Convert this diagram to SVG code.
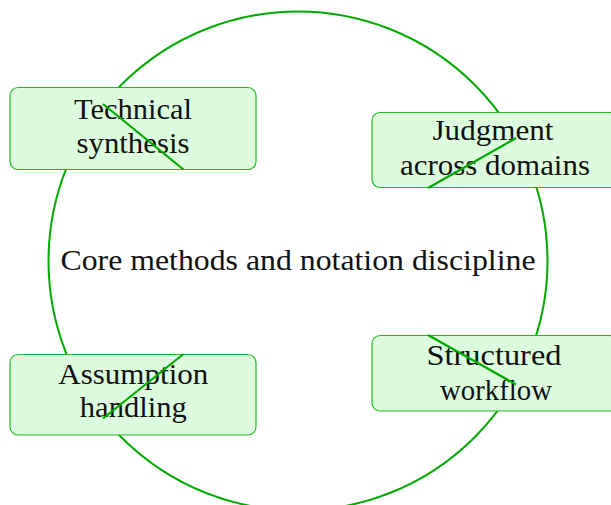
<svg xmlns="http://www.w3.org/2000/svg" width="611" height="505" viewBox="0 0 611 505">
<style>
.box{fill:#ddfcdd;stroke:#22bb22;stroke-width:1.2}
.t{font-family:"Liberation Serif","Times New Roman",serif;font-size:29px;fill:#111;text-anchor:middle}
.c{fill:none;stroke:#00aa00;stroke-width:2}
.ln{stroke:#00aa00;stroke-width:2.2;fill:none}
</style>
<rect width="611" height="505" fill="#fff"/>
<g id="connectors">
<circle class="c" cx="298" cy="261" r="249.5"/>
</g>
<text class="t" x="298" y="270" textLength="475" lengthAdjust="spacingAndGlyphs">Core methods and notation discipline</text>
<g id="technical">
<rect class="box" x="10" y="87.5" width="246" height="82" rx="8"/>
<text class="t" x="133" y="118.5" textLength="118" lengthAdjust="spacingAndGlyphs">Technical</text>
<text class="t" x="133" y="152.5" textLength="113" lengthAdjust="spacingAndGlyphs">synthesis</text>
<line class="ln" x1="103" y1="104" x2="183.5" y2="169.5"/>
</g>
<g id="judgment">
<rect class="box" x="372" y="112.5" width="246" height="75" rx="8"/>
<text class="t" x="493" y="140" textLength="121" lengthAdjust="spacingAndGlyphs">Judgment</text>
<text class="t" x="495" y="175" textLength="190" lengthAdjust="spacingAndGlyphs">across domains</text>
<line class="ln" x1="428" y1="188" x2="516" y2="138"/>
</g>
<g id="assumption">
<rect class="box" x="10" y="354.5" width="246" height="80.5" rx="8"/>
<text class="t" x="133.3" y="383.5" textLength="150" lengthAdjust="spacingAndGlyphs">Assumption</text>
<text class="t" x="133.3" y="416.5" textLength="107" lengthAdjust="spacingAndGlyphs">handling</text>
<line class="ln" x1="103" y1="418.5" x2="183.5" y2="354"/>
</g>
<g id="structured">
<rect class="box" x="372" y="335.5" width="246" height="75.5" rx="8"/>
<text class="t" x="494" y="365" textLength="135" lengthAdjust="spacingAndGlyphs">Structured</text>
<text class="t" x="496" y="400" textLength="112" lengthAdjust="spacingAndGlyphs">workflow</text>
<line class="ln" x1="428" y1="335" x2="516" y2="384.5"/>
</g>
</svg>
